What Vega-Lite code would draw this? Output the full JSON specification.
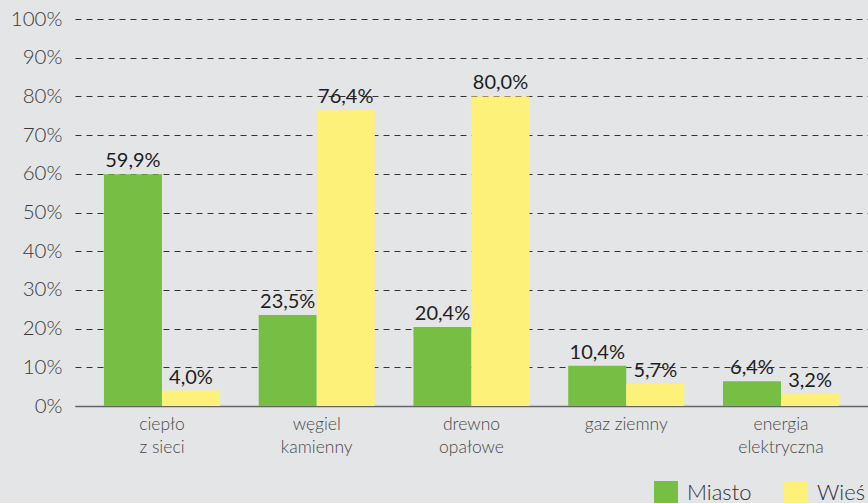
{
  "$schema": "https://vega.github.io/schema/vega-lite/v6.json",
  "autosize": {"type": "none"},
  "width": 793,
  "height": 387,
  "padding": {"left": 75, "top": 19, "right": 0, "bottom": 97},
  "background": "#e4e5e7",
  "config": {
    "font": "Lato",
    "view": {"stroke": null},
    "locale": {"number": {"decimal": ",", "thousands": " ", "grouping": [3], "currency": ["", " zł"]}}
  },
  "data": {
    "values": [
      {"kategoria": "ciepło|z sieci", "grupa": "Miasto", "udzial": 0.599},
      {"kategoria": "ciepło|z sieci", "grupa": "Wieś", "udzial": 0.040},
      {"kategoria": "węgiel|kamienny", "grupa": "Miasto", "udzial": 0.235},
      {"kategoria": "węgiel|kamienny", "grupa": "Wieś", "udzial": 0.764},
      {"kategoria": "drewno|opałowe", "grupa": "Miasto", "udzial": 0.204},
      {"kategoria": "drewno|opałowe", "grupa": "Wieś", "udzial": 0.800},
      {"kategoria": "gaz ziemny", "grupa": "Miasto", "udzial": 0.104},
      {"kategoria": "gaz ziemny", "grupa": "Wieś", "udzial": 0.057},
      {"kategoria": "energia|elektryczna", "grupa": "Miasto", "udzial": 0.064},
      {"kategoria": "energia|elektryczna", "grupa": "Wieś", "udzial": 0.032}
    ]
  },
  "encoding": {
    "x": {
      "field": "kategoria", "type": "nominal", "sort": null,
      "scale": {"paddingInner": 0.25, "paddingOuter": 0.187},
      "axis": {
        "title": null, "labelAngle": 0, "ticks": false,
        "labelExpr": "split(datum.label, '|')",
        "labelFontSize": 17.5, "labelFontWeight": 300, "labelColor": "#4a4a4a", "labelLineHeight": 23,
        "labelPadding": 9, "labelBaseline": "top",
        "domain": true, "domainColor": "#666666", "domainWidth": 1.5, "grid": false
      }
    },
    "xOffset": {"field": "grupa", "type": "nominal", "sort": ["Miasto", "Wieś"]},
    "y": {
      "field": "udzial", "type": "quantitative",
      "scale": {"domain": [0, 1]},
      "axis": {
        "title": null, "format": ".0%", "values": [0, 0.1, 0.2, 0.3, 0.4, 0.5, 0.6, 0.7, 0.8, 0.9, 1],
        "domain": false, "ticks": false, "labelFontSize": 20.5, "labelFontWeight": 300, "labelColor": "#3a3a3a",
        "labelPadding": 13, "gridColor": "#333333", "gridDash": [6, 5], "gridWidth": 1,
        "gridOpacity": 1
      }
    },
    "color": {
      "field": "grupa", "type": "nominal", "sort": ["Miasto", "Wieś"],
      "scale": {"domain": ["Miasto", "Wieś"], "range": ["#76bf44", "#fdf17a"]},
      "legend": {
        "title": null, "orient": "none", "direction": "horizontal",
        "legendX": 579, "legendY": 462,
        "symbolType": "square", "symbolSize": 576, "symbolStrokeWidth": 0,
        "labelFontSize": 22, "labelFontWeight": 300, "labelColor": "#333333", "columnPadding": 32,
        "labelOffset": 9
      }
    }
  },
  "layer": [
    {"mark": {"type": "bar"}},
    {
      "mark": {"type": "text", "baseline": "alphabetic", "dy": -7, "fontSize": 20, "color": "#1e1e1e"},
      "encoding": {
        "text": {"field": "udzial", "type": "quantitative", "format": ".1%"},
        "color": {"value": "#1e1e1e"}
      }
    }
  ]
}
